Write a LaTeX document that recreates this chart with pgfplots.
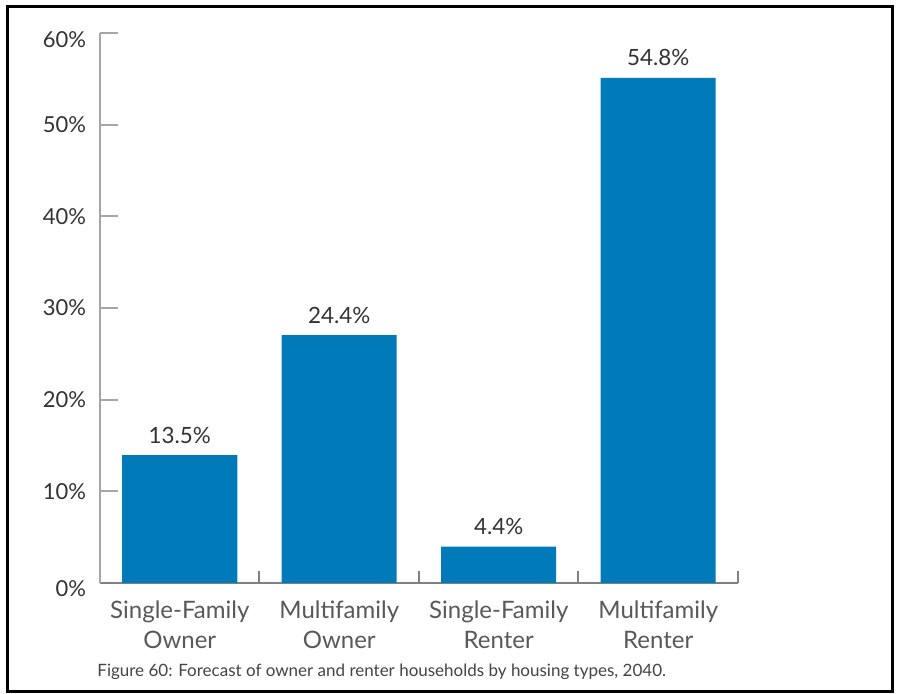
\documentclass[border=0pt]{standalone}
\usepackage{pgfplots}
\pgfplotsset{compat=1.18}
\usepackage{fontspec}
\setmainfont{Lato}
\definecolor{barblue}{HTML}{007AB8}
\definecolor{axisdark}{HTML}{808080}
\definecolor{axislight}{HTML}{A6A6A6}
\definecolor{numgray}{HTML}{333333}
\definecolor{catgray}{HTML}{595959}
\definecolor{capgray}{HTML}{444444}

% bar heights as drawn, labels as printed
\pgfplotstableread{
x  y     lab
0  13.96 13.5\%
1  27.05 24.4\%
2  3.96  4.4\%
3  55.10 54.8\%
}\housing

\begin{document}
\begin{tikzpicture}
\fill[white] (0,0) rectangle (449.5pt,347pt);
\draw[black, line width=1.5pt] (3.5pt,1pt) rectangle (446pt,343.5pt);
\begin{axis}[
	at={(50pt,55.5pt)}, anchor=south west,
	scale only axis,
	width=319pt, height=275pt,
	xmin=-0.5, xmax=3.5,
	ymin=0, ymax=60,
	axis x line*=bottom,
	axis y line*=left,
	x axis line style={draw=axisdark, line width=1pt, -},
	y axis line style={draw=axislight, line width=1pt, -},
	xtick={-0.5,0.5,1.5,2.5,3.5},
	x tick label as interval,
	xticklabels={{Single-Family\\Owner},{Multifamily\\Owner},{Single-Family\\Renter},{Multifamily\\Renter}},
	xticklabel style={align=center, text=catgray, font={\fontsize{12}{15}\selectfont}, yshift=-5.5pt},
	ytick={0,10,...,60},
	yticklabels={\raisebox{-3pt}[\height][\depth]{0\%},10\%,20\%,30\%,40\%,50\%,\raisebox{-3.2pt}[\height][\depth]{60\%}},
	yticklabel style={text=numgray, font={\fontsize{11}{12}\selectfont}, xshift=-3.5pt},
	tick align=inside,
	major tick length=6pt,
	xtick style={draw=axisdark, line width=1pt, /pgfplots/major tick length=6pt},
	ytick style={draw=axislight, line width=1pt, /pgfplots/major tick length=9pt},
	clip=false,
]
\addplot[ybar, bar width=57.5pt, fill=barblue, draw=none,
	nodes near coords, point meta=explicit symbolic,
	every node near coord/.append style={anchor=base, yshift=6pt, inner sep=0pt,
		text=numgray, font={\fontsize{11.2}{12}\selectfont}}]
	table[x=x, y=y, meta=lab] {\housing};
\end{axis}
\node[anchor=base west, text=capgray, font={\fontsize{8.5}{10}\selectfont}, inner sep=0pt]
	at (48.5pt,8.5pt) {Figure 60: Forecast of owner and renter households by housing types, 2040.};
\end{tikzpicture}
\end{document}
